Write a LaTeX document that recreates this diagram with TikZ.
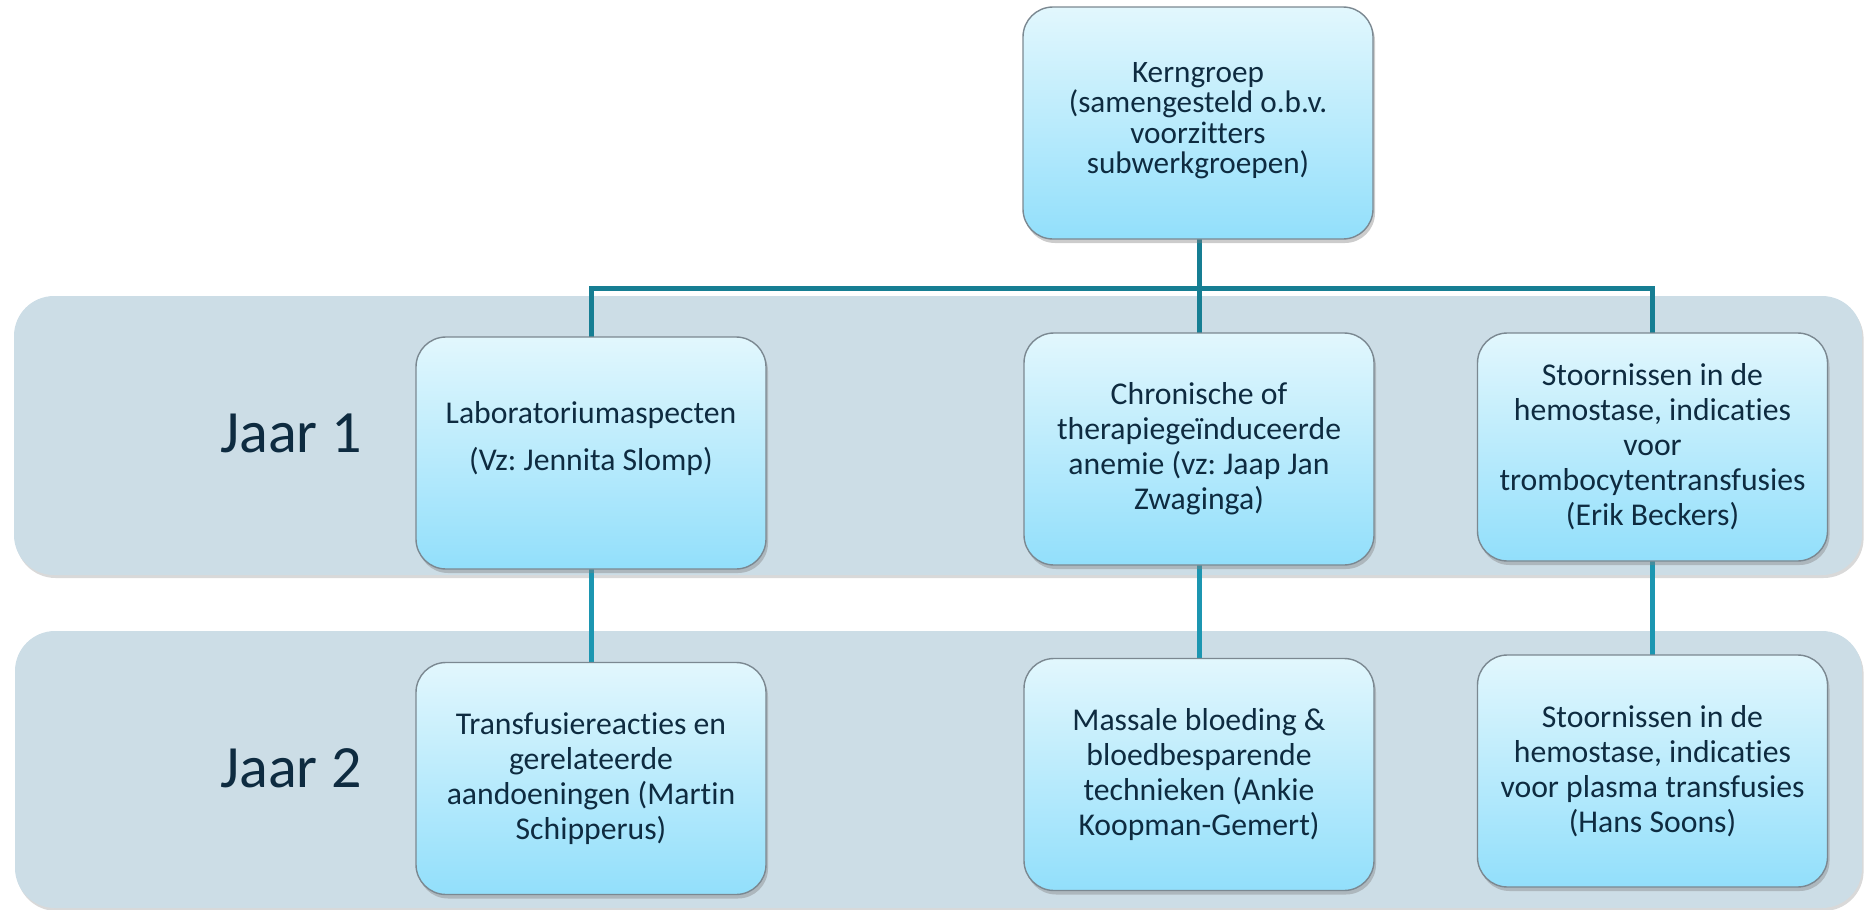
\documentclass[tikz,border=0pt]{standalone}
\usepackage{fontspec}
\setmainfont[Ligatures={NoCommon,NoRare,NoContextual}]{Carlito}
\usetikzlibrary{shadows,calc}
\definecolor{bandcol}{HTML}{CCDDE6}
\definecolor{txtcol}{HTML}{0E2B40}
\definecolor{boxtop}{HTML}{E2F7FD}
\definecolor{boxbot}{HTML}{92DFFB}
\definecolor{boxline}{HTML}{7B8891}
\definecolor{connA}{HTML}{167E93}
\definecolor{connB}{HTML}{1C96B1}
\frenchspacing
\begin{document}
\begin{tikzpicture}[x=0.5pt,y=-0.5pt,
  bandbox/.style={fill=bandcol, rounded corners=20pt, inner sep=0pt,
    drop shadow={shadow xshift=0.8pt, shadow yshift=-1.5pt, opacity=0.3}},
  unit/.style={draw=boxline, line width=0.7pt, rounded corners=15pt,
    top color=boxtop, bottom color=boxbot,
    minimum width=175pt, minimum height=116pt, inner sep=0pt,
    align=center, text=txtcol, font=\fontsize{15.85}{17.5}\selectfont,
    drop shadow={shadow xshift=1pt, shadow yshift=-2pt, opacity=0.4}},
  yearlabel/.style={text=txtcol, inner sep=0pt, font=\fontsize{30}{36}\selectfont},
  connup/.style={draw=connA, line width=2.5pt},
  conndown/.style={draw=connB, line width=2.5pt}]
\useasboundingbox (0,0) rectangle (1864,910);

% year bands
\node[bandbox, minimum width=924pt, minimum height=139.5pt] (band1) at (938,435.5) {};
\node[bandbox, minimum width=923.5pt, minimum height=138.5pt] (band2) at (938.5,769.5) {};

\node[yearlabel] (jaar1) at (291,433) {Jaar 1};
\node[yearlabel] (jaar2) at (291,768) {Jaar 2};

% bus coordinate
\coordinate (bus) at (1199,288);

% top-level connectors (drawn before boxes)
\coordinate (labtop) at (591,337);
\coordinate (chrontop) at (1199,333);
\coordinate (stoortop) at (1652.5,333);
\coordinate (kernbot) at (1199,239);
\draw[connup] (labtop) |- (bus) -| (stoortop);
\draw[connup] (kernbot) -- (chrontop);

\coordinate (labbot) at (591,569);
\coordinate (transtop) at (591,663);
\coordinate (chronbot) at (1199,565);
\coordinate (masstop) at (1199,658);
\coordinate (stoorbot) at (1652.5,561);
\coordinate (stoor2top) at (1652.5,655);
\draw[conndown] (labbot) -- (transtop);
\draw[conndown] (chronbot) -- (masstop);
\draw[conndown] (stoorbot) -- (stoor2top);

% boxes
\node[unit, font=\fontsize{15.6}{15.25}\selectfont] (kern) at (1198,123)
  {Kerngroep\\(samengesteld o.b.v.\\voorzitters\\subwerkgroepen)\\[-10pt]\mbox{}};
\node[unit] (lab) at (591,453)
  {Laboratoriumaspecten\\[6pt](Vz: Jennita Slomp)\\ \mbox{}};
\node[unit] (chron) at (1199,449)
  {Chronische of\\therapiegeïnduceerde\\anemie (vz: Jaap Jan\\Zwaginga)};
\node[unit, minimum height=114pt] (stoor1) at (1652.5,447)
  {Stoornissen in de\\hemostase, indicaties\\voor\\trombocytentransfusies\\(Erik Beckers)};
\node[unit] (trans) at (591,778.5)
  {Transfusiereacties en\\gerelateerde\\aandoeningen (Martin\\Schipperus)};
\node[unit] (mass) at (1199,774.5)
  {Massale bloeding \&\\bloedbesparende\\technieken (Ankie\\Koopman-Gemert)};
\node[unit] (stoor2) at (1652.5,771)
  {Stoornissen in de\\hemostase, indicaties\\voor plasma transfusies\\(Hans Soons)};
\end{tikzpicture}
\end{document}
